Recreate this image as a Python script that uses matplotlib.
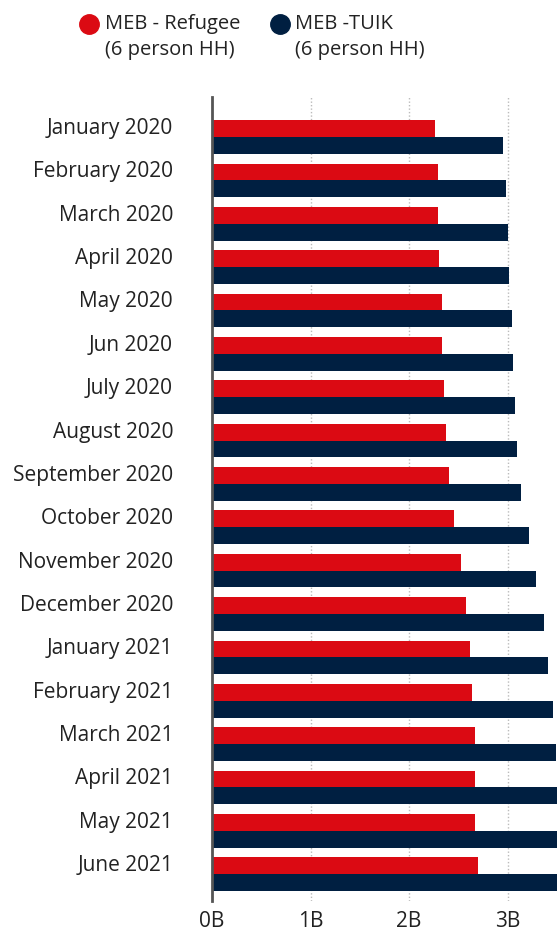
import matplotlib
matplotlib.use("Agg")
import matplotlib.pyplot as plt
from matplotlib.lines import Line2D
from matplotlib.transforms import ScaledTranslation
import numpy as np

plt.rcParams['font.family'] = ['Open Sans', 'DejaVu Sans']

categories = ["January 2020", "February 2020", "March 2020", "April 2020", "May 2020",
              "Jun 2020", "July 2020", "August 2020", "September 2020", "October 2020",
              "November 2020", "December 2020", "January 2021", "February 2021",
              "March 2021", "April 2021", "May 2021", "June 2021"]
meb_refugee = [2.264, 2.294, 2.294, 2.305, 2.335, 2.335, 2.355, 2.376, 2.406, 2.457,
               2.528, 2.579, 2.62, 2.64, 2.67, 2.67, 2.67, 2.70]
meb_tuik = [2.954, 2.985, 3.005, 3.015, 3.046, 3.056, 3.076, 3.096, 3.137, 3.218,
            3.289, 3.37, 3.41, 3.457, 3.49, 3.52, 3.55, 3.58]
series_names = ["MEB - Refugee\n(6 person HH)", "MEB -TUIK\n(6 person HH)"]
xticks = [0, 1, 2, 3]
xtick_labels = ["0B", "1B", "2B", "3B"]

red = '#DB0A13'
navy = '#001F41'

fig = plt.figure(figsize=(5.57, 9.36), dpi=100)
ax = fig.add_axes([212/557, 1 - 901/936, 1 - 212/557, (901 - 97)/936])

y = np.arange(len(categories))
h = 0.388
ax.barh(y - h/2, meb_refugee, height=h, color=red, zorder=3)
ax.barh(y + h/2, meb_tuik, height=h, color=navy, zorder=3)

ax.set_xlim(0, 3.5)
ax.set_ylim(17.62, -0.923)
ax.set_yticks(y)
ax.set_yticklabels(categories, fontsize=15, color='#222222')
ax.tick_params(axis='y', length=0, pad=28)
offset = ScaledTranslation(0, 11/100, fig.dpi_scale_trans)
for lab in ax.get_yticklabels():
    lab.set_transform(lab.get_transform() + offset)

ax.set_xticks(xticks)
ax.set_xticklabels(xtick_labels, fontsize=15, color='#222222')
ax.tick_params(axis='x', length=0, pad=7)

ax.grid(axis='x', linestyle=(0, (1, 1.5)), color='#BBBBBB', linewidth=1, zorder=0)
ax.grid(axis='y', visible=False)
for s in ['top', 'right', 'bottom']:
    ax.spines[s].set_visible(False)
ax.spines['left'].set_color('#555555')
ax.spines['left'].set_linewidth(2)
ax.spines['left'].set_zorder(4)

# Legend
W, H = 557, 936
legend_items = [(89, 105, red, series_names[0]), (280, 295, navy, series_names[1])]
for cx, tx, col, name in legend_items:
    fig.add_artist(Line2D([cx / W], [1 - 24 / H], marker='o', markersize=14,
                          color=col, linestyle='none', transform=fig.transFigure))
    fig.text(tx / W, 1 - 14 / H, name, fontsize=14.5, color='#222222', ha='left', va='top',
             linespacing=1.38)

fig.savefig('out.png', dpi=100)
